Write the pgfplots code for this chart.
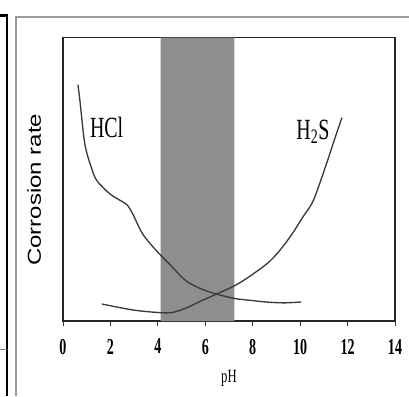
\documentclass[border=0pt]{standalone}
\usepackage{fontspec}
\usepackage{graphicx}
\usepackage{pgfplots}
\pgfplotsset{compat=1.18}
\setmainfont{Liberation Serif}
\newfontfamily\tickfont{Liberation Serif}[FakeStretch=0.62]
\newfontfamily\labfont{Liberation Serif}[FakeStretch=0.68]
\newfontfamily\ylabfont{Liberation Sans}
\definecolor{band}{HTML}{8E8E8E}
\definecolor{curve}{HTML}{3A3A3A}
\begin{document}
\begin{tikzpicture}
\path[use as bounding box] (0pt,0pt) rectangle (306.75pt,-297pt);
% page frame remnants
\draw[line width=1.6pt,black] (0pt,-11.6pt) -- (5.4pt,-11.6pt) -- (5.4pt,-297pt);
\draw[line width=0.6pt,gray] (0pt,-262pt) -- (5.4pt,-262pt);
\draw[line width=1pt,gray!80] (12pt,-297pt) -- (12pt,-12.8pt) -- (306.75pt,-12.8pt);
\begin{axis}[
  at={(47.25pt,-240.75pt)}, anchor=south west,
  scale only axis, width=249pt, height=212.6pt,
  xmin=0, xmax=14, ymin=0, ymax=10,
  xtick={0,2,...,14}, ytick=\empty,
  axis line style={line width=1pt, black!85},
  tick align=outside, major tick length=4pt,
  tick style={line width=0.6pt, black!80},
  xtick pos=bottom,
  /pgf/number format/assume math mode=true,
  xticklabel style={font=\tickfont\bfseries\fontsize{17}{17}\selectfont, yshift=-6pt},
  xlabel={\labfont\fontsize{14}{14}\selectfont pH},
  xlabel style={yshift=-5pt},
  ylabel={\scalebox{1}[0.78]{\ylabfont\fontsize{18}{18}\selectfont Corrosion rate}},
  ylabel style={yshift=9pt, xshift=-8pt},
  clip=false,
]
\addplot[fill=band, draw=none] coordinates {(4.12,0) (7.23,0) (7.23,10) (4.12,10)} \closedcycle;
\addplot[curve, line width=1pt, smooth, tension=0.5] coordinates {
 (0.63,8.34) (0.71,7.8) (0.92,6.25) (1.2,5.4) (1.43,4.95) (1.97,4.49) (2.4,4.26)
 (2.7,4.1) (2.94,3.78) (3.36,3.07) (3.95,2.47) (4.5,2.0) (5.2,1.41) (6.05,1.06)
 (7.14,0.81) (8.0,0.72) (8.57,0.67) (9.3,0.64) (10.04,0.67)};
\addplot[curve, line width=1pt, smooth, tension=0.5] coordinates {
 (1.64,0.6) (2.94,0.39) (4.0,0.3) (4.6,0.3) (5.2,0.46) (5.8,0.7) (6.47,0.95)
 (7.44,1.34) (8.57,2.0) (9.12,2.47) (9.66,3.07) (10.1,3.65) (10.55,4.24) (11.05,5.4)
 (11.43,6.36) (11.76,7.17)};
\node[anchor=base, font=\labfont\fontsize{22}{22}\selectfont] at (axis cs:1.84,6.48) {HCl};
\node[anchor=base, font=\labfont\fontsize{22}{22}\selectfont] at (axis cs:10.54,6.42) {H\textsubscript{2}S};
\end{axis}
\end{tikzpicture}
\end{document}
